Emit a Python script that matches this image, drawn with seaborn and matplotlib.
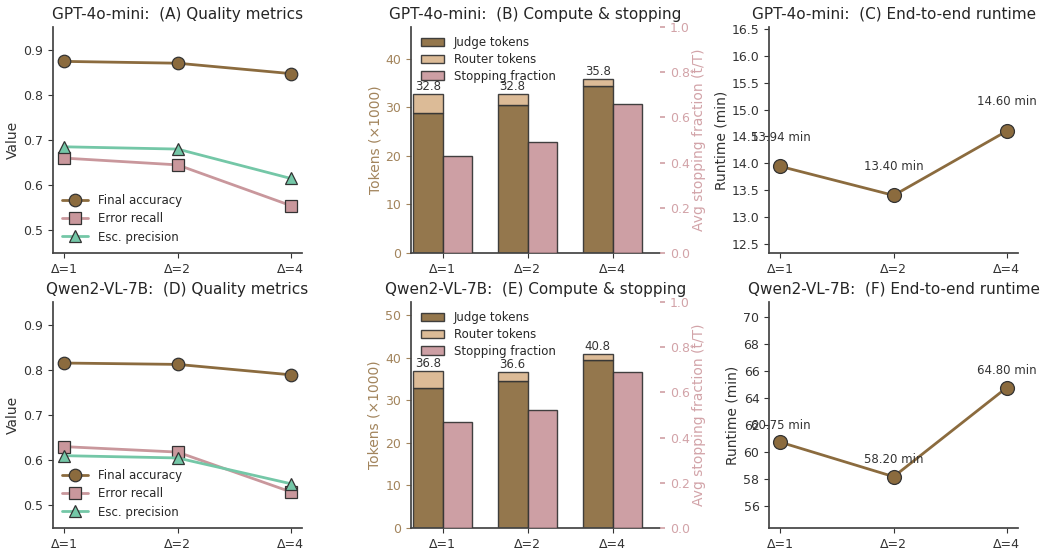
import numpy as np
import matplotlib
matplotlib.use("Agg")
import matplotlib.pyplot as plt
import seaborn as sns
from matplotlib.patches import Patch
from matplotlib.ticker import MultipleLocator

sns.set_theme(style="ticks")
plt.rcParams['font.family'] = ['DejaVu Sans']

deltas = ["Δ=1", "Δ=2", "Δ=4"]

# quality metrics
gpt_acc = [0.874, 0.870, 0.847]
gpt_recall = [0.660, 0.645, 0.555]
gpt_prec = [0.685, 0.680, 0.615]
qwen_acc = [0.815, 0.812, 0.789]
qwen_recall = [0.630, 0.618, 0.530]
qwen_prec = [0.610, 0.605, 0.548]

# tokens (x1000) and stopping fraction
gpt_judge = [28.8, 30.5, 34.5]
gpt_router = [4.0, 2.3, 1.3]
gpt_stop = [0.43, 0.49, 0.66]
qwen_judge = [32.8, 34.4, 39.5]
qwen_router = [4.0, 2.2, 1.3]
qwen_stop = [0.47, 0.52, 0.69]

# runtime (min)
gpt_runtime = [13.94, 13.40, 14.60]
qwen_runtime = [60.75, 58.20, 64.80]

C_ACC = "#8b6b3e"
C_REC = "#c9979c"
C_PREC = "#74c7a7"
C_JUDGE = "#8b6b3e"
C_ROUTER = "#d9b68e"
C_STOP = "#c9979c"
TXT = "#333333"
LEFT_COL = "#a2845c"
RIGHT_COL = "#d2a3a8"

fig, axes = plt.subplots(2, 3, figsize=(10.4, 5.52), dpi=100)
plt.subplots_adjust(left=0.051, right=0.979, top=0.951, bottom=0.0435,
                    wspace=0.438, hspace=0.217)

rows = [
    ("GPT-4o-mini", "A", "B", "C", gpt_acc, gpt_recall, gpt_prec, gpt_judge, gpt_router,
     gpt_stop, gpt_runtime, (12.325, 16.54), 0.5, 21),
    ("Qwen2-VL-7B", "D", "E", "F", qwen_acc, qwen_recall, qwen_prec, qwen_judge, qwen_router,
     qwen_stop, qwen_runtime, (54.4, 71.13), 2, 12),
]

x = np.arange(len(deltas))
for r, (model, la, lb, lc, acc, rec, prec, judge, router, stop, runtime, rlim, rstep, off) in enumerate(rows):
    # --- quality metrics
    ax = axes[r, 0]
    for vals, col, mk, lab in [(acc, C_ACC, "o", "Final accuracy"),
                               (rec, C_REC, "s", "Error recall"),
                               (prec, C_PREC, "^", "Esc. precision")]:
        sns.lineplot(x=x, y=vals, ax=ax, color=col, marker=mk, markersize=9,
                     markeredgecolor="#333333", markeredgewidth=0.9, linewidth=2,
                     label=lab)
    ax.set_ylim(0.45, 0.95)
    ax.set_xticks(x, deltas)
    ax.set_ylabel("Value", fontsize=10, color=TXT, labelpad=2.5)
    ax.set_title(f"{model}:  ({la}) Quality metrics", fontsize=11)
    ax.legend(loc="lower left", frameon=False, fontsize=8.5, handlelength=2.2,
              borderaxespad=0.4, labelspacing=0.45)

    # --- compute & stopping
    ax = axes[r, 1]
    w = 0.35
    total = np.array(judge) + np.array(router)
    ax.bar(x - w / 2, judge, w, color=C_JUDGE, alpha=0.92, edgecolor="#333333", linewidth=1)
    ax.bar(x - w / 2, router, w, bottom=judge, color=C_ROUTER, alpha=0.92,
           edgecolor="#333333", linewidth=1)
    for xi, t in zip(x, total):
        ax.text(xi - w / 2, t + 0.2, f"{t:.1f}", ha="center", va="bottom", fontsize=8.5, color=TXT)
    ax.set_ylim(0, total.max() * 1.3)
    ax.set_xlim(-0.37, 2.56)
    ax.set_xticks(x, deltas)
    ax.set_ylabel("Tokens (×1000)", fontsize=10, color=LEFT_COL, labelpad=2.5)
    ax.tick_params(axis="y", colors=LEFT_COL)
    ax2 = ax.twinx()
    ax2.bar(x + w / 2, stop, w, color=C_STOP, alpha=0.92, edgecolor="#333333", linewidth=1)
    ax2.set_ylim(0, 1.0)
    ax2.set_ylabel("Avg stopping fraction (t\u0302/T)", fontsize=10, color=RIGHT_COL, labelpad=1)
    ax2.tick_params(axis="y", colors=RIGHT_COL, length=3.5, labelsize=9, pad=3.5)
    for s in ["top", "right", "left", "bottom"]:
        ax2.spines[s].set_visible(False)
    ax.set_title(f"{model}:  ({lb}) Compute & stopping", fontsize=11)
    handles = [Patch(facecolor=C_JUDGE, edgecolor="#333333", alpha=0.92, label="Judge tokens"),
               Patch(facecolor=C_ROUTER, edgecolor="#333333", alpha=0.92, label="Router tokens"),
               Patch(facecolor=C_STOP, edgecolor="#333333", alpha=0.92, label="Stopping fraction")]
    ax.legend(handles=handles, loc="upper left", frameon=False, fontsize=8.5,
              borderaxespad=0.4, labelspacing=0.3)

    # --- runtime
    ax = axes[r, 2]
    sns.lineplot(x=x, y=runtime, ax=ax, color=C_ACC, marker="o", markersize=10,
                 markeredgecolor="#333333", markeredgewidth=0.9, linewidth=2)
    for xi, v in zip(x, runtime):
        ax.annotate(f"{v:.2f} min", (xi, v), xytext=(0, off), textcoords="offset points",
                    ha="center", va="center", fontsize=8.5, color=TXT)
    ax.set_ylim(*rlim)
    ax.yaxis.set_major_locator(MultipleLocator(rstep))
    ax.set_xticks(x, deltas)
    ax.set_ylabel("Runtime (min)", fontsize=10, color=TXT, labelpad=2.5)
    ax.set_title(f"{model}:  ({lc}) End-to-end runtime", fontsize=11)

for ax in axes.flat:
    sns.despine(ax=ax)
    ax.tick_params(labelsize=9, length=3.5, width=0.8, pad=3.5)
    ax.tick_params(axis="x", colors=TXT)
    for s in ["left", "bottom"]:
        ax.spines[s].set_color("#444444")
for ax in axes[:, [0, 2]].flat:
    ax.tick_params(axis="y", colors=TXT)

plt.savefig("out.png", dpi=100)
